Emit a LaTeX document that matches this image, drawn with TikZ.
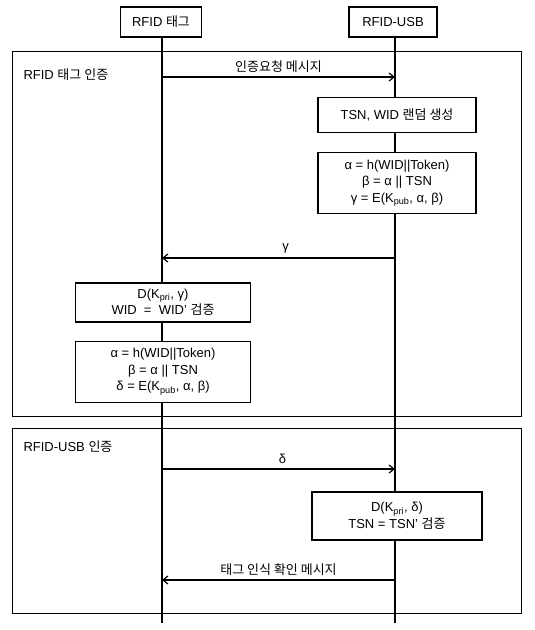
\documentclass[tikz,border=0pt]{standalone}
\usepackage{fontspec}
\setmainfont{Liberation Sans}
\newfontfamily\kr{Noto Sans CJK KR}
\usetikzlibrary{positioning, arrows.meta}
\newcommand{\fs}{\fontsize{13}{16.5}\selectfont}

\begin{document}
\begin{tikzpicture}[x=1pt, y=-1pt,
        actor/.style={rectangle, draw, line width=1.2pt, minimum height=30pt, font=\fs},
        stepbox/.style={rectangle, draw, fill=white, line width=1.2pt, align=center,
                        inner sep=2pt, font=\fs},
        frame/.style={rectangle, draw, line width=1.3pt, anchor=north west, inner sep=0pt},
        life/.style={line width=1.2pt},
        msg/.style={-{Straight Barb[length=5pt, width=8pt]}, line width=1.2pt},
        lbl/.style={font=\fs, above=1pt},
        ttl/.style={font=\fs, anchor=west},
    ]
    \useasboundingbox (0,0) rectangle (535,630);

    % Phase frames
    \node[frame, minimum width=509pt, minimum height=365pt] (tagauth) at (12,51) {};
    \node[frame, minimum width=509pt, minimum height=185pt] (usbauth) at (12,428) {};
    \node[ttl] (tagttl) at (20,75) {RFID {\kr 태그 인증}};
    \node[ttl] (usbttl) at (20,447) {RFID-USB {\kr 인증}};

    % Participants and lifelines
    \node[actor, minimum width=81pt] (tag) at (161,22) {RFID {\kr 태그}};
    \node[actor, minimum width=88pt] (usb) at (393,22) {RFID-USB};
    \coordinate (tagend) at (162,623);
    \coordinate (usbend) at (395,623);
    \draw[life] (tag.south -| tagend) -- (tagend);
    \draw[life] (usb.south -| usbend) -- (usbend);

    % Message anchors on the lifelines
    \foreach \nm/\yy in {req/77, gam/258, del/469, ack/580} {
        \coordinate (\nm-t) at (162,\yy);
        \coordinate (\nm-u) at (395,\yy);
    }

    % Processing steps
    \node[stepbox, minimum width=158pt, minimum height=35pt] (rnd) at (397,115)
        {TSN, WID {\kr 랜덤 생성}};
    \node[stepbox, minimum width=158pt, minimum height=61pt, below=19pt of rnd] (hashu)
        {α = h(WID||Token)\\β = α || TSN\\γ = E(K\textsubscript{pub}, α, β)};
    \node[stepbox, minimum width=175pt, minimum height=39pt] (dec) at (163,302.5)
        {D(K\textsubscript{pri}, γ)\\WID \ = \ WID’ {\kr 검증}};
    \node[stepbox, minimum width=175pt, minimum height=61pt, below=18pt of dec] (hasht)
        {α = h(WID||Token)\\β = α || TSN\\δ = E(K\textsubscript{pub}, α, β)};
    \node[stepbox, minimum width=170pt, minimum height=48pt] (ver) at (397,516)
        {D(K\textsubscript{pri}, δ)\\TSN = TSN’ {\kr 검증}};

    % Messages
    \draw[msg] (req-t) -- node[lbl] {\kr 인증요청 메시지} (req-u);
    \draw[msg] (gam-u) -- node[lbl, xshift=7pt] {γ} (gam-t);
    \draw[msg] (del-t) -- node[lbl, xshift=4pt] {δ} (del-u);
    \draw[msg] (ack-u) -- node[lbl] {\kr 태그 인식 확인 메시지} (ack-t);
\end{tikzpicture}
\end{document}
